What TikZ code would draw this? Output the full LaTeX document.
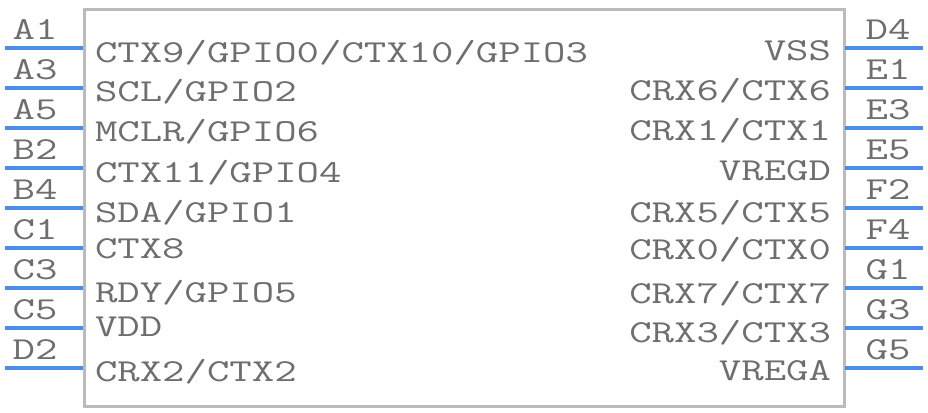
\documentclass[tikz,border=0pt]{standalone}
\usepackage{fontspec}
\usepackage{graphicx}
\definecolor{pinblue}{HTML}{4A8CE8}
\definecolor{txtgray}{HTML}{6E6E6E}
\definecolor{boxgray}{HTML}{BBBBBB}
\newcommand{\widetxt}[1]{\scalebox{1.36}[1]{#1}}
\begin{document}
\begin{tikzpicture}[x=1bp,y=-1bp,
  lbl/.style={inner sep=0pt,outer sep=0pt,text=txtgray,font=\ttfamily\fontsize{32bp}{32bp}\selectfont},
  pinline/.style={draw=pinblue,line width=4bp},
  body/.style={draw=boxgray,line width=3bp,fill=white,inner sep=0pt,outer sep=0pt}]
\useasboundingbox (0,0) rectangle (928,412);
\fill[white] (0,0) rectangle (928,412);
\node[body,minimum width=760bp,minimum height=396.5bp,anchor=north west] (box) at (84,9.5) {};
% left pins
\foreach \n/\y in {A1/48,A3/88,A5/128,B2/168,B4/208,C1/248,C3/288,C5/328,D2/368}{
  \coordinate (l\n) at (5,\y);
  \coordinate (L\n) at (83,\y);
  \draw[pinline] (l\n) -- (L\n);
  \node[lbl,anchor=base] (t\n) at (35,\y-9) {\widetxt{\n}};
}
% right pins
\foreach \n/\y in {D4/48,E1/88,E3/128,E5/168,F2/208,F4/248,G1/288,G3/328,G5/368}{
  \coordinate (r\n) at (923,\y);
  \coordinate (R\n) at (845,\y);
  \draw[pinline] (R\n) -- (r\n);
  \node[lbl,anchor=base] (t\n) at (888,\y-9) {\widetxt{\n}};
}
% left texts
\node[lbl,anchor=base west] (s1) at (95,62) {\widetxt{CTX9/GPIO0/CTX10/GPIO3}};
\node[lbl,anchor=base west] (s2) at (95,101) {\widetxt{SCL/GPIO2}};
\node[lbl,anchor=base west] (s3) at (95,141) {\widetxt{MCLR/GPIO6}};
\node[lbl,anchor=base west] (s4) at (95,182) {\widetxt{CTX11/GPIO4}};
\node[lbl,anchor=base west] (s5) at (95,222) {\widetxt{SDA/GPIO1}};
\node[lbl,anchor=base west] (s6) at (95,258) {\widetxt{CTX8}};
\node[lbl,anchor=base west] (s7) at (95,302) {\widetxt{RDY/GPIO5}};
\node[lbl,anchor=base west] (s8) at (95,336) {\widetxt{VDD}};
\node[lbl,anchor=base west] (s9) at (95,381) {\widetxt{CRX2/CTX2}};
% right texts
\node[lbl,anchor=base east] (u1) at (831,60) {\widetxt{VSS}};
\node[lbl,anchor=base east] (u2) at (831,100) {\widetxt{CRX6/CTX6}};
\node[lbl,anchor=base east] (u3) at (831,140) {\widetxt{CRX1/CTX1}};
\node[lbl,anchor=base east] (u4) at (831,180) {\widetxt{VREGD}};
\node[lbl,anchor=base east] (u5) at (831,222) {\widetxt{CRX5/CTX5}};
\node[lbl,anchor=base east] (u6) at (831,259) {\widetxt{CRX0/CTX0}};
\node[lbl,anchor=base east] (u7) at (831,303) {\widetxt{CRX7/CTX7}};
\node[lbl,anchor=base east] (u8) at (831,342) {\widetxt{CRX3/CTX3}};
\node[lbl,anchor=base east] (u9) at (831,380) {\widetxt{VREGA}};
\end{tikzpicture}
\end{document}
